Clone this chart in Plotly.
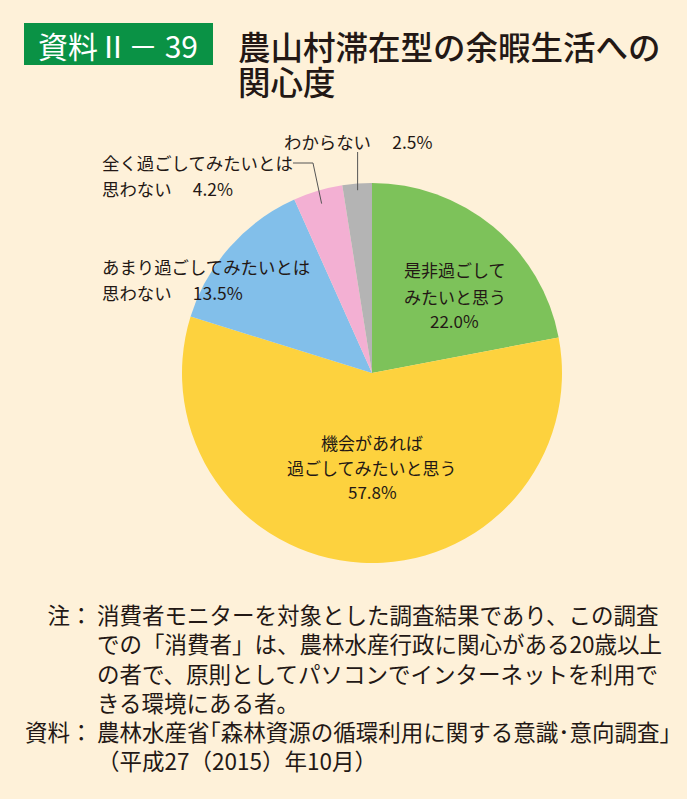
import math
import plotly.graph_objects as go

W, H = 687, 799

# ---- data ----
categories = ["是非過ごして\nみたいと思う",
              "機会があれば\n過ごしてみたいと思う",
              "あまり過ごしてみたいとは\n思わない",
              "全く過ごしてみたいとは\n思わない",
              "わからない"]
values = [22.0, 57.8, 13.5, 4.2, 2.5]
colors = ["#7DC25A", "#FDD23E", "#82BFEA", "#F3B0D3", "#B4B4B4"]

badge_text = "資料Ⅱ－ 39"
title_lines = ["農山村滞在型の余暇生活への", "関心度"]
note_prefix = ["注：", "", "", "", "資料：", ""]
note_lines = ["消費者モニターを対象とした調査結果であり、この調査",
              "での「消費者」は、農林水産行政に関心がある20歳以上",
              "の者で、原則としてパソコンでインターネットを利用で",
              "きる環境にある者。",
              "農林水産省｢森林資源の循環利用に関する意識･意向調査｣",
              "（平成27（2015）年10月）"]

BG = "#FEF1D9"
TXT = "#231815"
FONT = "Noto Sans CJK JP"


def px(x, y):
    return x / W, 1 - y / H


# pie geometry in pixels
CX, CY, R = 372, 373, 190
x0, y0 = px(CX - R, CY + R)
x1, y1 = px(CX + R, CY - R)

fig = go.Figure(go.Pie(
    labels=[c.replace("\n", "") for c in categories],
    values=values,
    sort=False,
    direction="clockwise",
    rotation=0,
    marker=dict(colors=colors, line=dict(width=0)),
    textinfo="none",
    hoverinfo="label+percent",
    domain=dict(x=[x0, x1], y=[y0, y1]),
    showlegend=False,
))

ann = []
shapes = []


def add_text(x, y, text, size=17, anchor="left", color=TXT, weight=400, align="left"):
    ax, ay = px(x, y)
    ann.append(dict(x=ax, y=ay, xref="paper", yref="paper", text=text,
                    showarrow=False, xanchor=anchor, yanchor="middle", align=align,
                    font=dict(family=FONT, size=size, color=color, weight=weight)))


pct = [f"{v:.1f}%" for v in values]

# inside labels
inside = {0: (455, [270, 296, 321]), 1: (372, [442, 467, 492])}
for i, (cx, ys) in inside.items():
    lines = categories[i].split("\n") + [pct[i]]
    for ln, yy in zip(lines, ys):
        add_text(cx, yy, ln, anchor="center")

# outside labels
l2 = categories[2].split("\n")
add_text(100, 266, l2[0], size=17.4)
add_text(100, 292, l2[1] + "　 " + pct[2], size=17.4)
l3 = categories[3].split("\n")
add_text(100, 163, l3[0], size=17.4)
add_text(100, 188, l3[1] + "　 " + pct[3], size=17.4)
add_text(282, 141, categories[4] + "　 " + pct[4], size=17.4)

# leader lines from slice midpoints
cum = [sum(values[:i]) for i in range(len(values))]
tot = sum(values)


def mid_point(i, rf):
    ang = (cum[i] + values[i] / 2) / tot * 2 * math.pi
    return CX + R * rf * math.sin(ang), CY - R * rf * math.cos(ang)


gx, gy = mid_point(4, 0.965)
shapes.append(dict(type="line", xref="paper", yref="paper",
                   x0=px(gx, gy)[0], y0=px(gx, gy)[1],
                   x1=px(gx, 152)[0], y1=px(gx, 152)[1],
                   line=dict(color="#555555", width=1)))
pxm, pym = mid_point(3, 0.93)
pts = [(pxm, pym), (313, 163), (293, 163)]
path = "M " + " L ".join(f"{px(a, b)[0]:.5f},{px(a, b)[1]:.5f}" for a, b in pts)
shapes.append(dict(type="path", xref="paper", yref="paper", path=path,
                   line=dict(color="#555555", width=1)))

# badge
bx0, by0 = px(24, 65)
bx1, by1 = px(213, 23)
shapes.append(dict(type="rect", xref="paper", yref="paper",
                   x0=bx0, y0=by0, x1=bx1, y1=by1,
                   fillcolor="#0A9245", line=dict(width=0), layer="below"))
add_text(118, 45, badge_text, size=30, anchor="center", color="#FFFFFF")

# title
add_text(236, 46, title_lines[0], size=32.5, weight=500)
add_text(236, 81, title_lines[1], size=32.5, weight=500)

# notes (one block for prefixes, one for body)
block_mid = 687
add_text(95, block_mid, "<br>".join(p if p else "　" for p in note_prefix),
         size=22.5, anchor="right", align="right")
add_text(95, block_mid, "<br>".join(note_lines), size=22.5)

fig.update_layout(
    width=W, height=H,
    margin=dict(l=0, r=0, t=0, b=0),
    paper_bgcolor=BG, plot_bgcolor=BG,
    annotations=ann, shapes=shapes,
)

fig.write_html("out.html")
